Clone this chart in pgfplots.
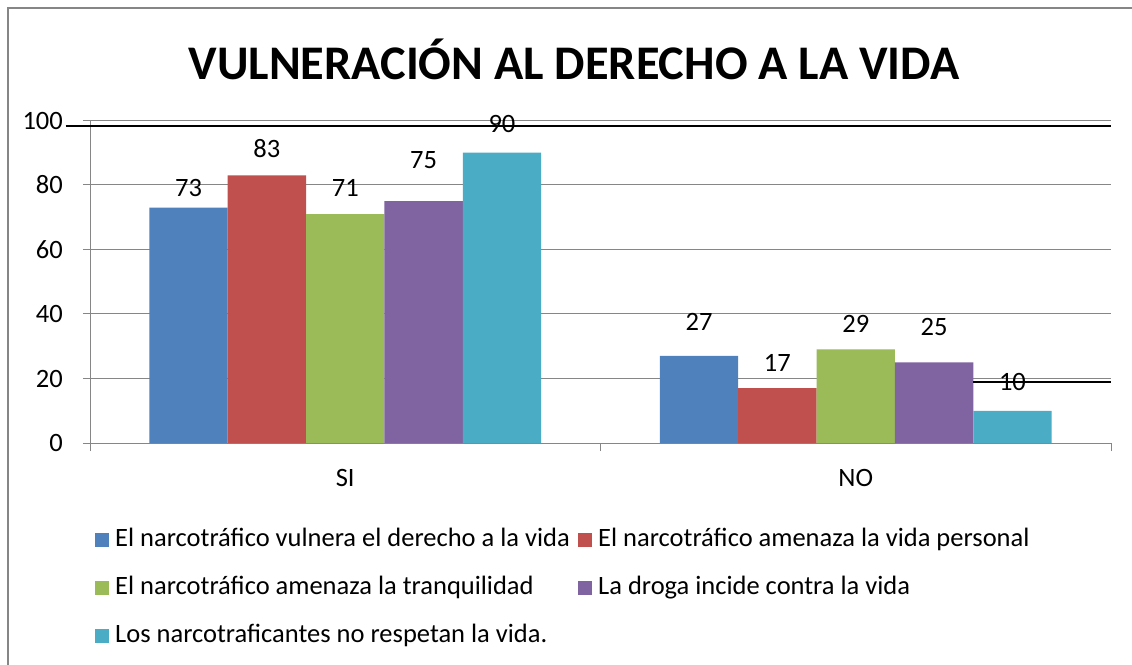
\documentclass[border=0pt]{standalone}
\usepackage{pgfplots}
\pgfplotsset{compat=1.18}
\usepackage{fontspec}
\setmainfont{Carlito}
\definecolor{c1}{HTML}{4F81BD}
\definecolor{c2}{HTML}{C0504D}
\definecolor{c3}{HTML}{9BBB59}
\definecolor{c4}{HTML}{8064A2}
\definecolor{c5}{HTML}{4BACC6}
\definecolor{gr}{HTML}{868686}
\begin{document}
\begin{tikzpicture}[x=1pt,y=1pt]
\useasboundingbox (0,0) rectangle (1132,664);
\fill[white] (0,0) rectangle (1132,664);
\draw[gr, line width=2pt] (8,-5) -- (8,656.3) -- (1140,656.3);
\node[font=\fontsize{48.3}{56}\selectfont\bfseries, anchor=base, inner sep=0pt] at (574,584) {VULNERACIÓN AL DERECHO A LA VIDA};
\begin{axis}[
  at={(90pt,221pt)}, anchor=south west,
  scale only axis, width=1021pt, height=322.5pt,
  xmin=-0.5, xmax=1.5, ymin=0, ymax=100,
  clip=false,
  axis x line=bottom, axis y line=left,
  axis line style={-, gr, line width=1pt},
  ytick={0,20,40,60,80,100},
  xtick={0,1}, xticklabels={SI,NO},
  minor xtick={-0.5,0.5,1.5},
  major x tick style={draw=none},
  tick style={gr, line width=1pt},
  tick align=outside,
  major tick length=7pt, minor tick length=8pt,
  ymajorgrids, grid style={gr, line width=1pt},
  font=\fontsize{26.5}{30}\selectfont,
  /pgf/number format/assume math mode=true,
  yticklabel style={inner sep=0pt, anchor=east, xshift=-20pt},
  xticklabel style={inner sep=0pt, anchor=north, yshift=-19pt},
  legend columns=2,
  legend cell align=left,
  legend style={at={(0.0049,-0.2667)}, anchor=north west, draw=none, fill=none,
    inner sep=0pt, row sep=26pt,
    font=\fontsize{26.5}{30}\selectfont,
    nodes={inner sep=0pt, text height=17pt, text depth=5pt},
    /tikz/every odd column/.append style={column sep=6pt},
    /tikz/every even column/.append style={column sep=23pt}},
  legend image code/.code={\fill[#1] (0pt,-7pt) rectangle (14pt,7pt);},
]
\addplot[ybar, bar width=0.1535, bar shift=-0.307, fill=c1, draw=none] coordinates {(0,73) (1,27)};
\addlegendentry{\makebox[440pt][l]{El narcotráfico vulnera el derecho a la vida}}
\addplot[ybar, bar width=0.1535, bar shift=-0.1535, fill=c2, draw=none] coordinates {(0,83) (1,17)};
\addlegendentry{El narcotráfico amenaza la vida personal}
\addplot[ybar, bar width=0.1535, bar shift=0, fill=c3, draw=none] coordinates {(0,71) (1,29)};
\addlegendentry{\makebox[440pt][l]{El narcotráfico amenaza la tranquilidad}}
\addplot[ybar, bar width=0.1535, bar shift=0.1535, fill=c4, draw=none] coordinates {(0,75) (1,25)};
\addlegendentry{La droga incide contra la vida}
\addplot[ybar, bar width=0.1535, bar shift=0.307, fill=c5, draw=none] coordinates {(0,90) (1,10)};
\addlegendentry{\makebox[440pt][l]{Los narcotraficantes no respetan la vida.}}
\addplot[forget plot, only marks, mark=*, mark size=0pt, mark options={draw=none, fill=none},
  nodes near coords, nodes near coords align=center, point meta=explicit,
  every node near coord/.append style={inner sep=0pt, font=\fontsize{26.5}{30}\selectfont, text=black,
    /pgf/number format/assume math mode=true}]
  coordinates {
  (-0.307,79.2) [73] (-0.1535,91.2) [83] (0,79.2) [71] (0.1535,87.7) [75] (0.307,98.8) [90]
  (0.693,37.5) [27] (0.8465,24.9) [17] (1,36.8) [29] (1.1535,36.1) [25] (1.307,19.0) [10]
  };
\addplot[forget plot, black, line width=2pt] coordinates {(-0.5476,98.4) (1.5,98.4)};
\addplot[forget plot, black, line width=2pt] coordinates {(1.2306,18.8) (1.5,18.8)};
\end{axis}
\end{tikzpicture}
\end{document}
